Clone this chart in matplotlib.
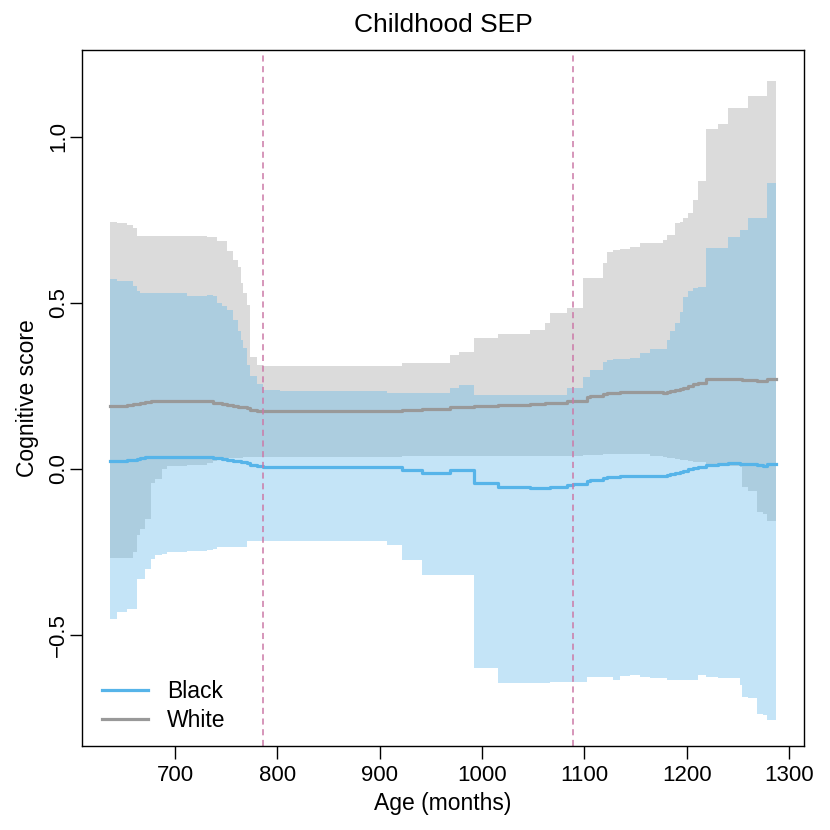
import matplotlib
matplotlib.use("Agg")
import matplotlib.pyplot as plt

plt.rcParams['font.family'] = ['Liberation Sans', 'DejaVu Sans']

# age in months (step breakpoints)
age = [636, 643, 653, 659, 663, 666, 671, 676, 680, 687, 692, 712, 731, 737, 741,
       746, 751, 757, 761, 764, 766, 770, 773, 780, 786, 803, 842, 881, 907, 922,
       941, 969, 977, 992, 1016, 1047, 1062, 1066, 1083, 1089, 1099, 1103, 1106,
       1118, 1122, 1128, 1135, 1145, 1154, 1164, 1177, 1181, 1184, 1189, 1193,
       1196, 1201, 1206, 1211, 1219, 1231, 1240, 1252, 1254, 1260, 1269, 1275,
       1279, 1287]

# White: estimate and interval
white_est = [0.19, 0.19, 0.192, 0.195, 0.196, 0.198, 0.203, 0.205, 0.205, 0.205, 0.205,
             0.205, 0.205, 0.2, 0.198, 0.195, 0.192, 0.19, 0.188, 0.187, 0.186, 0.183,
             0.178, 0.175, 0.174, 0.174, 0.174, 0.174, 0.175, 0.178, 0.18, 0.186, 0.188,
             0.19, 0.193, 0.196, 0.198, 0.2, 0.204, 0.206, 0.206, 0.218, 0.22, 0.225,
             0.228, 0.23, 0.232, 0.232, 0.232, 0.232, 0.23, 0.233, 0.235, 0.238, 0.242,
             0.245, 0.25, 0.255, 0.26, 0.27, 0.27, 0.272, 0.27, 0.269, 0.268, 0.266,
             0.265, 0.27, 0.27]
white_hi = [0.745, 0.742, 0.735, 0.725, 0.703, 0.703, 0.703, 0.703, 0.702, 0.702, 0.702,
            0.701, 0.70, 0.70, 0.686, 0.686, 0.656, 0.63, 0.608, 0.56, 0.53, 0.494,
            0.337, 0.312, 0.31, 0.31, 0.31, 0.31, 0.31, 0.318, 0.318, 0.343, 0.353,
            0.394, 0.407, 0.42, 0.44, 0.47, 0.485, 0.485, 0.575, 0.575, 0.575, 0.62,
            0.655, 0.66, 0.662, 0.669, 0.682, 0.682, 0.69, 0.705, 0.705, 0.74, 0.745,
            0.756, 0.77, 0.81, 0.866, 1.024, 1.04, 1.087, 1.087, 1.087, 1.123, 1.123,
            1.123, 1.17, 1.17]
white_lo = [-0.268, -0.268, -0.268, -0.25, -0.2, -0.18, -0.15, -0.042, -0.03, 0.0, 0.008,
            0.012, 0.018, 0.025, 0.028, 0.03, 0.032, 0.034, 0.034, 0.034, 0.035, 0.035,
            0.035, 0.035, 0.035, 0.036, 0.037, 0.037, 0.037, 0.038, 0.038, 0.038, 0.038,
            0.039, 0.039, 0.039, 0.039, 0.039, 0.039, 0.039, 0.042, 0.042, 0.043, 0.044,
            0.045, 0.045, 0.045, 0.045, 0.045, 0.04, 0.036, 0.034, 0.032, 0.03, 0.028,
            0.026, 0.024, 0.022, 0.02, 0.016, 0.013, 0.01, 0.006, -0.053, -0.065, -0.13,
            -0.135, -0.155, -0.16]

# Black: estimate and interval
black_est = [0.024, 0.024, 0.026, 0.028, 0.03, 0.032, 0.037, 0.037, 0.037, 0.037, 0.037,
             0.037, 0.037, 0.033, 0.032, 0.03, 0.027, 0.025, 0.023, 0.021, 0.02, 0.017,
             0.012, 0.008, 0.007, 0.007, 0.007, 0.006, 0.005, -0.004, -0.011, -0.003,
             -0.003, -0.041, -0.053, -0.058, -0.056, -0.054, -0.047, -0.045, -0.045,
             -0.035, -0.033, -0.028, -0.025, -0.023, -0.021, -0.021, -0.021, -0.022,
             -0.02, -0.017, -0.015, -0.012, -0.008, -0.005, -0.001, 0.003, 0.006, 0.013,
             0.015, 0.017, 0.015, 0.014, 0.014, 0.013, 0.01, 0.016, 0.016]
black_hi = [0.573, 0.566, 0.566, 0.55, 0.536, 0.53, 0.53, 0.53, 0.53, 0.53, 0.53, 0.52,
            0.524, 0.52, 0.5, 0.49, 0.48, 0.45, 0.416, 0.39, 0.364, 0.312, 0.28, 0.255,
            0.238, 0.236, 0.236, 0.236, 0.23, 0.23, 0.23, 0.244, 0.252, 0.223, 0.223,
            0.223, 0.223, 0.223, 0.243, 0.243, 0.278, 0.278, 0.298, 0.323, 0.328, 0.33,
            0.332, 0.334, 0.35, 0.362, 0.362, 0.39, 0.415, 0.44, 0.473, 0.518, 0.535,
            0.545, 0.548, 0.667, 0.667, 0.70, 0.72, 0.72, 0.756, 0.756, 0.756, 0.86, 0.86]
black_lo = [-0.452, -0.43, -0.42, -0.42, -0.33, -0.33, -0.3, -0.27, -0.26, -0.255, -0.249,
            -0.247, -0.245, -0.24, -0.234, -0.234, -0.234, -0.234, -0.234, -0.234, -0.234,
            -0.218, -0.218, -0.218, -0.218, -0.218, -0.218, -0.218, -0.229, -0.275,
            -0.319, -0.319, -0.319, -0.598, -0.645, -0.645, -0.643, -0.64, -0.64, -0.64,
            -0.64, -0.625, -0.625, -0.625, -0.625, -0.635, -0.622, -0.62, -0.625, -0.63,
            -0.63, -0.635, -0.635, -0.636, -0.636, -0.636, -0.636, -0.636, -0.62, -0.625,
            -0.63, -0.63, -0.649, -0.687, -0.69, -0.738, -0.74, -0.756, -0.756]

cutoffs = [786, 1089]

col_black = '#56B4E9'
col_white = '#999999'
col_cut = '#CC79A7'

fig = plt.figure(figsize=(8.3, 8.3), dpi=100)
ax = fig.add_axes([0.0988, 0.1012, 0.8699, 0.8386])

ax.fill_between(age, white_lo, white_hi, step='post', color=col_white, alpha=0.35, lw=0)
ax.fill_between(age, black_lo, black_hi, step='post', color=col_black, alpha=0.35, lw=0)
ax.plot(age, black_est, drawstyle='steps-post', color=col_black, lw=2.3, label='Black')
ax.plot(age, white_est, drawstyle='steps-post', color=col_white, lw=2.3, label='White')
for c in cutoffs:
    ax.axvline(c, color=col_cut, ls=(0, (4, 3)), lw=1.1)

ax.set_xlim(609, 1314.7)
ax.set_ylim(-0.834, 1.262)
ax.set_xticks([700, 800, 900, 1000, 1100, 1200, 1300])
ax.set_yticks([-0.5, 0.0, 0.5, 1.0])
ax.set_yticklabels(['\u22120.5', '0.0', '0.5', '1.0'], rotation=90, va='center')
ax.tick_params(direction='out', length=9, width=1, labelsize=16)
ax.tick_params(axis='x', pad=5)
ax.tick_params(axis='y', pad=0.5)
for s in ax.spines.values():
    s.set_linewidth(1)

ax.set_title('Childhood SEP', fontsize=19, pad=13)
ax.set_xlabel('Age (months)', fontsize=16.5, labelpad=4)
ax.set_ylabel('Cognitive score', fontsize=16.5, labelpad=6)

ax.legend(loc='lower left', bbox_to_anchor=(0.015, 0.007), frameon=False,
          fontsize=16.5, handlelength=2.0, borderaxespad=0, labelspacing=0.25,
          handletextpad=0.85)

fig.savefig('out.png', dpi=100)
